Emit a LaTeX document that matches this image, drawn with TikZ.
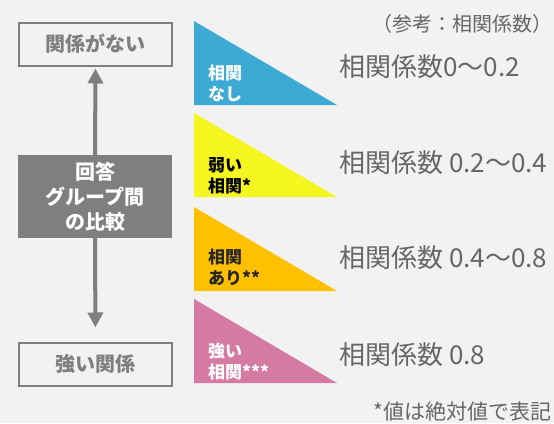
\documentclass[tikz,border=0pt]{standalone}
\usepackage{fontspec}
\setmainfont{Noto Sans CJK JP}
\usetikzlibrary{arrows.meta, positioning}
\definecolor{bg}{HTML}{F2F2F2}
\definecolor{boxgray}{HTML}{7F7F7F}
\definecolor{txtgray}{HTML}{666666}
\definecolor{tblue}{HTML}{3DAAD5}
\definecolor{tyellow}{HTML}{F5F51F}
\definecolor{torange}{HTML}{FFC000}
\definecolor{tpink}{HTML}{D57BA3}
\tikzset{
  endbox/.style={draw=boxgray, line width=2pt, minimum width=153pt, minimum height=43pt, text=boxgray, font=\fontsize{20}{24}\selectfont\bfseries},
  midbox/.style={fill=boxgray, minimum width=154pt, minimum height=83pt, text=white, align=center, font=\fontsize{20}{25}\selectfont\bfseries},
  trilabel/.style={anchor=north west, align=left, inner sep=0pt, font=\fontsize{17}{21}\selectfont\bfseries},
  coef/.style={anchor=base west, inner sep=0pt, text=txtgray, font=\fontsize{26}{30}\selectfont},
  note/.style={anchor=base east, inner sep=0pt, text=txtgray, font=\fontsize{20}{24}\selectfont},
  updown/.style={line width=4pt, boxgray, -{Triangle[length=15pt,width=15pt]}},
}
\begin{document}
\begin{tikzpicture}[x=1pt,y=-1pt]
  \fill[bg] (0,0) rectangle (554,423);
  \useasboundingbox (0,0) rectangle (554,423);
  % left column
  \node[endbox] (none) at (95.5,44) {関係がない};
  \node[endbox] (strong) at (95.5,364) {強い関係};
  \node[midbox] (cmp) at (95,196.5) {回答\\グループ間\\の比較};
  \draw[updown, shorten >=2pt] (cmp.north) -- (none.south);
  \draw[updown, shorten >=14pt] (cmp.south) -- (strong.north);
  % triangles
  \fill[tblue] (194,21) -- (194,105) -- (337,105) -- cycle;
  \fill[tyellow] (194,113) -- (194,197) -- (337,197) -- cycle;
  \fill[torange] (194,207) -- (194,291) -- (337,291) -- cycle;
  \fill[tpink] (194,299) -- (194,383) -- (337,383) -- cycle;
  \node[trilabel, text=white] (lnone) at (208,65) {相関\\なし};
  \node[trilabel, text=black] (lweak) at (208,157) {弱い\\相関*};
  \node[trilabel, text=black!85] (lsome) at (208,249) {相関\\あり**};
  \node[trilabel, text=white] (lstrong) at (208,343) {強い\\相関***};
  % coefficients
  \node[coef] (cnone) at (339,76) {相関係数0〜0.2};
  \node[coef] (cweak) at (339,172) {相関係数 0.2〜0.4};
  \node[coef] (csome) at (339,267) {相関係数 0.4〜0.8};
  \node[coef] (cstrong) at (339,364) {相関係数 0.8};
  \node[note] (ref) at (553,31) {（参考：相関係数）};
  \node[note, font=\fontsize{21}{24}\selectfont] (abs) at (552,419) {*値は絶対値で表記};
\end{tikzpicture}
\end{document}
